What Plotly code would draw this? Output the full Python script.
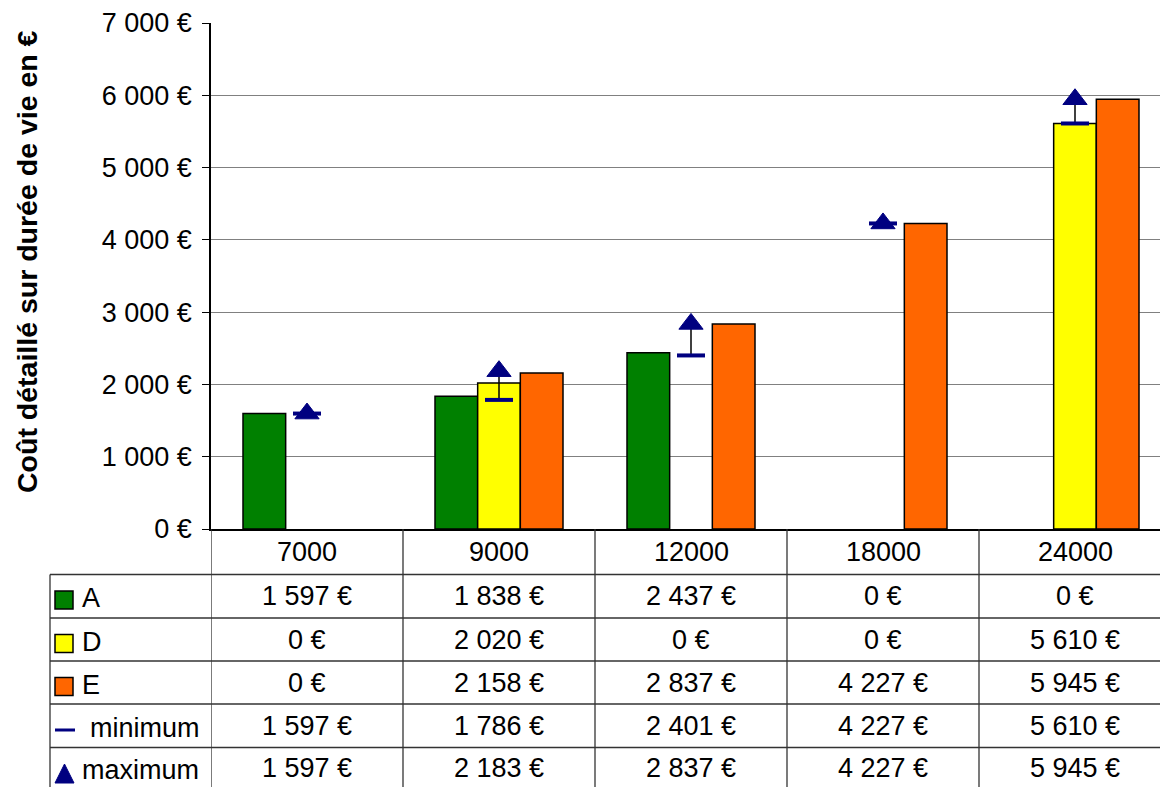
import plotly.graph_objects as go

# ---- data ----
categories = ["7000", "9000", "12000", "18000", "24000"]
serie_A = [1597, 1838, 2437, 0, 0]
serie_D = [0, 2020, 0, 0, 5610]
serie_E = [0, 2158, 2837, 4227, 5945]
minimum = [1597, 1786, 2401, 4227, 5610]
maximum = [1597, 2183, 2837, 4227, 5945]
y_tickvals = [0, 1000, 2000, 3000, 4000, 5000, 6000, 7000]
y_ticktext = ["0 €", "1 000 €", "2 000 €", "3 000 €", "4 000 €", "5 000 €", "6 000 €", "7 000 €"]
row_names = ["A", "D", "E", "minimum", "maximum"]

W, H = 1160, 787
FONT = "Liberation Sans, Arial, sans-serif"
FS = 27
NAVY = "#000080"
colors = {"A": "#008000", "D": "#FFFF00", "E": "#FF6600"}


def px(x):
    return x / W


def py(y):
    return 1 - y / H


def euro(v):
    return f"{v:,}".replace(",", " ") + " €"


idx = list(range(len(categories)))

fig = go.Figure()
for name, vals in (("A", serie_A), ("D", serie_D), ("E", serie_E)):
    fig.add_trace(go.Bar(
        x=idx, y=[v if v else None for v in vals], name=name,
        marker=dict(color=colors[name], line=dict(color="black", width=1.5)),
        showlegend=False,
    ))

# high-low lines
lx, ly = [], []
for i, (lo, hi) in enumerate(zip(minimum, maximum)):
    lx += [i, i, None]
    ly += [lo, hi, None]
fig.add_trace(go.Scatter(x=lx, y=ly, mode="lines", line=dict(color="black", width=1.5),
                         showlegend=False, hoverinfo="skip"))
fig.add_trace(go.Scatter(x=idx, y=maximum, mode="markers", name="maximum",
                         marker=dict(symbol="triangle-up", size=21, color=NAVY,
                                     line=dict(color=NAVY, width=1)), showlegend=False))
fig.add_trace(go.Scatter(x=idx, y=minimum, mode="markers", name="minimum",
                         marker=dict(symbol="line-ew", size=20, color=NAVY,
                                     line=dict(color=NAVY, width=4)), showlegend=False))

x_left, x_plot, y_top, y_axis = 50, 211, 23, 529
cat_w = 192
row_bounds = [574.5, 618, 661, 704, 747.5]
row_centers = [596, 639.5, 682.5, 726, 768]
header_center = 551.5

fig.update_layout(
    width=W, height=H, margin=dict(l=0, r=0, t=0, b=0, autoexpand=False),
    paper_bgcolor="white", plot_bgcolor="white",
    barmode="group", bargap=1/3, bargroupgap=0,
    font=dict(family=FONT, size=FS, color="black"),
    xaxis=dict(type="linear", domain=[px(x_plot), 1], range=[-0.5, -0.5 + (W - x_plot) / cat_w],
               showticklabels=False, ticks="", showgrid=False, zeroline=False, automargin=False,
               showline=True, linecolor="black", linewidth=1.5),
    yaxis=dict(domain=[py(y_axis), py(y_top)], range=[0, 7000], tickvals=y_tickvals, ticktext=y_ticktext,
               ticks="outside", ticklen=7, tickcolor="black", showline=True, linecolor="black", linewidth=1.5,
               showgrid=True, gridcolor="#808080", gridwidth=1.2, zeroline=False, automargin=False,
               ticklabelstandoff=5, tickfont=dict(family=FONT, size=FS)),
)

shapes = []
LC = "#333333"
# vertical separators in the table
for k in range(len(categories)):
    shapes.append(dict(type="line", xref="x", yref="paper", x0=k - 0.5, x1=k - 0.5,
                       y0=py(y_axis), y1=0, line=dict(color=LC, width=1.3)))
# horizontal row lines
for yb in row_bounds:
    shapes.append(dict(type="line", xref="paper", yref="paper", x0=px(x_left), x1=1,
                       y0=py(yb), y1=py(yb), line=dict(color=LC, width=1.3)))
shapes.append(dict(type="line", xref="paper", yref="paper", x0=px(x_left), x1=px(x_left),
                   y0=py(row_bounds[0]), y1=0, line=dict(color=LC, width=1.3)))

annotations = []
# header row
for i, c in enumerate(categories):
    annotations.append(dict(x=i, y=py(header_center), xref="x", yref="paper", text=c, showarrow=False,
                            xanchor="center", yanchor="middle", font=dict(size=FS)))
# value rows
table_rows = [serie_A, serie_D, serie_E, minimum, maximum]
for r, vals in enumerate(table_rows):
    for i, v in enumerate(vals):
        annotations.append(dict(x=i, y=py(row_centers[r]), xref="x", yref="paper", text=euro(v),
                                showarrow=False, xanchor="center", yanchor="middle", font=dict(size=FS)))

# legend keys in the table
for r, name in enumerate(row_names):
    yc = row_centers[r]
    if name in colors:
        shapes.append(dict(type="rect", xref="paper", yref="paper", x0=px(55), x1=px(73),
                           y0=py(yc - 5), y1=py(yc + 13), fillcolor=colors[name],
                           line=dict(color="black", width=1.5)))
        tx = 80
    elif name == "minimum":
        shapes.append(dict(type="line", xref="paper", yref="paper", x0=px(55), x1=px(75),
                           y0=py(yc + 4), y1=py(yc + 4), line=dict(color=NAVY, width=3)))
        tx = 88
    else:
        shapes.append(dict(type="path", xref="paper", yref="paper",
                           path=f"M {px(55)},{py(yc + 15)} L {px(74)},{py(yc + 15)} L {px(64.5)},{py(yc - 4)} Z",
                           fillcolor=NAVY, line=dict(color=NAVY, width=1)))
        tx = 80
    annotations.append(dict(x=px(tx), y=py(yc + 2), xref="paper", yref="paper", text=name, showarrow=False,
                            xanchor="left", yanchor="middle", font=dict(size=FS)))

# y-axis title
annotations.append(dict(x=px(27), y=py(262), xref="paper", yref="paper",
                        text="<b>Coût détaillé sur durée de vie en €</b>", textangle=-90, showarrow=False,
                        xanchor="center", yanchor="middle", font=dict(size=28.5)))

fig.update_layout(shapes=shapes, annotations=annotations)

fig.write_html("out.html", config={"displayModeBar": False},
               post_script="document.body.style.margin='0';document.body.style.overflow='hidden';")
